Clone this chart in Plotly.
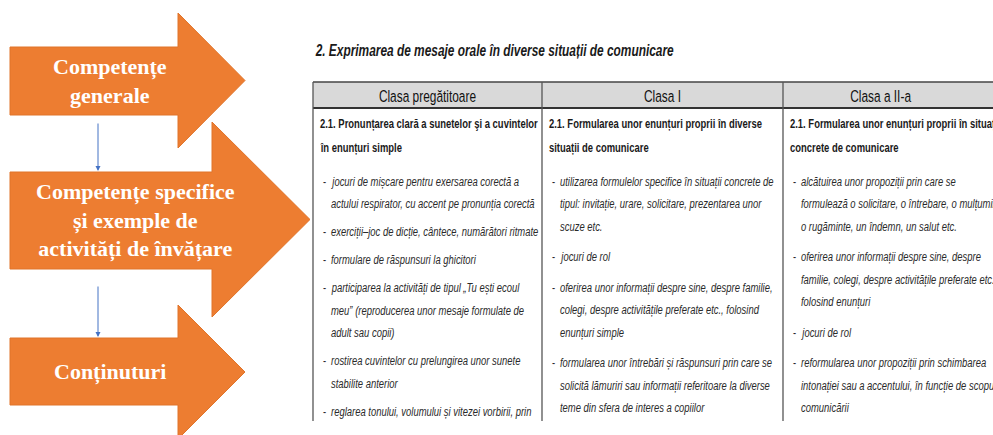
import plotly.graph_objects as go

W, H = 993, 435

# ---------------- data (text content) ----------------
arrow_labels = [
    "Competențe<br>generale",
    "Competențe specifice<br>și exemple de<br>activități de învățare",
    "Conținuturi",
]

table_title = "2. Exprimarea de mesaje orale în diverse situații de comunicare"

column_headers = ["Clasa pregătitoare", "Clasa I", "Clasa a II-a"]

competence_heads = [
    ["2.1. Pronunțarea clară a sunetelor şi a cuvintelor", "în enunțuri simple"],
    ["2.1. Formularea unor enunțuri proprii în diverse", "situații de comunicare"],
    ["2.1. Formularea unor enunțuri proprii în situații", "concrete de comunicare"],
]

activities_prep = [
    ["jocuri de mișcare pentru exersarea corectă a",
     "actului respirator, cu accent pe pronunția corectă"],
    ["exerciții–joc de dicție, cântece, numărători ritmate"],
    ["formulare de răspunsuri la ghicitori"],
    ["participarea la activități de tipul „Tu ești ecoul",
     "meu” (reproducerea unor mesaje formulate de",
     "adult sau copii)"],
    ["rostirea cuvintelor cu prelungirea unor sunete",
     "stabilite anterior"],
    ["reglarea tonului, volumului și vitezei vorbirii, prin"],
]

activities_cls1 = [
    ["utilizarea formulelor specifice în situații concrete de",
     "tipul: invitație, urare, solicitare, prezentarea unor",
     "scuze etc."],
    ["jocuri de rol"],
    ["oferirea unor informații despre sine, despre familie,",
     "colegi, despre activitățile preferate etc., folosind",
     "enunțuri simple"],
    ["formularea unor întrebări și răspunsuri prin care se",
     "solicită lămuriri sau informații referitoare la diverse",
     "teme din sfera de interes a copiilor"],
]

activities_cls2 = [
    ["alcătuirea unor propoziții prin care se",
     "formulează o solicitare, o întrebare, o mulțumire,",
     "o rugăminte, un îndemn, un salut etc."],
    ["oferirea unor informații despre sine, despre",
     "familie, colegi, despre activitățile preferate etc.,",
     "folosind enunțuri"],
    ["jocuri de rol"],
    ["reformularea unor propoziții prin schimbarea",
     "intonației sau a accentului, în funcție de scopul",
     "comunicării"],
]

activities = [activities_prep, activities_cls1, activities_cls2]

# ---------------- styling / geometry ----------------
ORANGE = "#ED7D31"
BLUE = "#4472C4"
SANS = "Liberation Sans, Arial, sans-serif"
SERIF = "Liberation Serif, Times New Roman, serif"

fig = go.Figure()
shapes = []
annotations = []

# arrows: (body_left, body_top, body_bottom, head_base_x, head_top, head_bottom, tip_x, text_cx)
arrow_geom = [
    (10, 47, 115, 178, 13, 148, 245, 110),
    (10, 172, 269, 212, 122, 317, 310, 135),
    (10, 338, 405, 178, 305, 439, 245, 110),
]
for (x0, yt, yb, hb, ht, hbot, xt, cx), label in zip(arrow_geom, arrow_labels):
    yc = (ht + hbot) / 2
    path = (f"M {x0},{yt} L {hb},{yt} L {hb},{ht} L {xt},{yc} "
            f"L {hb},{hbot} L {hb},{yb} L {x0},{yb} Z")
    shapes.append(dict(type="path", path=path, xref="x", yref="y",
                       fillcolor=ORANGE, line=dict(color="#E0742A", width=1)))
    annotations.append(dict(x=cx, y=(yt + yb) / 2, xref="x", yref="y",
                            text=label, showarrow=False, align="center",
                            xanchor="center", yanchor="middle",
                            font=dict(family=SERIF, size=22, color="white",
                                      weight="bold")))

# blue connectors
for y0, y1 in [(122, 171), (285, 337)]:
    annotations.append(dict(x=98, y=y1, ax=98, ay=y0, xref="x", yref="y",
                            axref="x", ayref="y", text="", showarrow=True,
                            arrowhead=2, arrowsize=1, arrowwidth=1,
                            arrowcolor=BLUE, standoff=0))

# table
col_left = [313, 542, 783]
col_center = [427.5, 662.5, 880]
col_gap = [5.5, 8, 8]
tbl_top, hdr_bot, tbl_bot = 82, 108, 421

shapes.append(dict(type="rect", xref="x", yref="y", x0=313, x1=1000,
                   y0=tbl_top, y1=hdr_bot, fillcolor="#D9D9D9",
                   line=dict(width=0), layer="below"))
shapes.append(dict(type="line", xref="x", yref="y", x0=313, x1=1000,
                   y0=tbl_top, y1=tbl_top, line=dict(color="#444", width=1.5)))
shapes.append(dict(type="line", xref="x", yref="y", x0=313, x1=1000,
                   y0=hdr_bot, y1=hdr_bot, line=dict(color="#333", width=2.2)))
for x in col_left:
    shapes.append(dict(type="line", xref="x", yref="y", x0=x, x1=x,
                       y0=tbl_top, y1=tbl_bot, line=dict(color="#555", width=1.3)))


def left_text(x, y, text, size, color, weight="normal", style="normal"):
    return dict(x=x, y=y, xref="x", yref="y", text=text, showarrow=False,
                xanchor="left", yanchor="middle", align="left",
                font=dict(family=SANS, size=size, color=color,
                          weight=weight, style=style))


annotations.append(left_text(313, 50, table_title, 17, "#1a1a1a",
                             weight="bold", style="italic"))

for cx, hdr in zip(col_center, column_headers):
    annotations.append(dict(x=cx, y=96, xref="x", yref="y", text=hdr,
                            showarrow=False, xanchor="center", yanchor="middle",
                            align="center",
                            font=dict(family=SANS, size=17, color="#111")))

LINE = 22.5
for ci, left in enumerate(col_left):
    y = 123
    for line in competence_heads[ci]:
        annotations.append(left_text(left + 5, y, line, 13.5, "#1a1a1a",
                                     weight="bold"))
        y += 24
    y = 181
    for item in activities[ci]:
        annotations.append(left_text(left + 8, y, "-", 13.5, "#2a2a2a"))
        for line in item:
            annotations.append(left_text(left + 16, y, line, 13.5, "#2a2a2a",
                                         style="italic"))
            y += LINE
        y += col_gap[ci]

fig.update_layout(
    width=W, height=H,
    margin=dict(l=0, r=0, t=0, b=0),
    paper_bgcolor="white", plot_bgcolor="white",
    xaxis=dict(range=[0, W], visible=False, fixedrange=True),
    yaxis=dict(range=[H, 0], visible=False, fixedrange=True),
    shapes=shapes, annotations=annotations, showlegend=False,
)

# condensed look of the scanned table text (horizontal squeeze of the sans texts)
post = """
document.body.style.margin='0px';
document.body.style.overflow='hidden';
var gd = document.getElementById('{plot_id}');
gd.querySelectorAll('text.annotation-text').forEach(function(t){
  var ff = t.style.fontFamily || '';
  if (ff.indexOf('Liberation Sans') >= 0) {
    var a = t.getAttribute('text-anchor');
    t.style.transformBox = 'fill-box';
    t.style.transformOrigin = (a === 'middle') ? 'center center' : 'left center';
    t.style.transform = 'scaleX(0.70)';
  }
});
"""

fig.write_html("out.html", config={"displayModeBar": False}, post_script=post)
